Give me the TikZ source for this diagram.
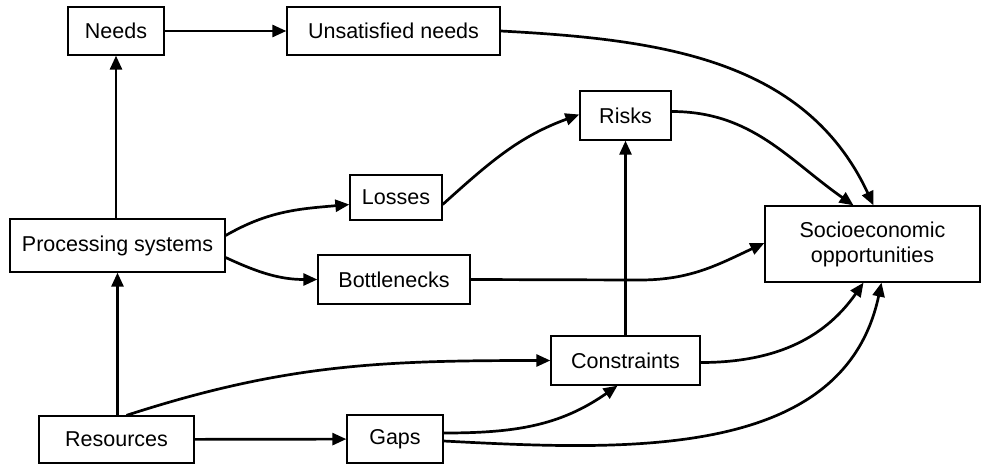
\documentclass[tikz,border=0pt]{standalone}
\usepackage{fontspec}
\setmainfont{Liberation Sans}
\usetikzlibrary{arrows.meta}
\begin{document}
\begin{tikzpicture}[x=1pt,y=-1pt,
  box/.style={draw,line width=1.3pt,inner sep=0pt,font=\fontsize{21.5}{25}\selectfont,align=center},
  con/.style={line width=2.7pt,-{Triangle[length=14pt,width=12pt]}}]
\useasboundingbox (0,0) rectangle (985,464);
\node[box,minimum width=96,minimum height=48] (needs) at (116,31) {Needs};
\node[box,minimum width=213,minimum height=48] (unsat) at (393.5,31) {Unsatisfied needs};
\node[box,minimum width=91,minimum height=49] (risks) at (625.5,115.5) {Risks};
\node[box,minimum width=215,minimum height=76] (socio) at (872.5,244) {Socioeconomic\\opportunities};
\node[box,minimum width=92,minimum height=45] (losses) at (396,197.5) {Losses};
\node[box,minimum width=215,minimum height=53] (proc) at (117.5,245.5) {Processing systems};
\node[box,minimum width=152,minimum height=49] (bott) at (394,279.5) {Bottlenecks};
\node[box,minimum width=149,minimum height=49] (cons) at (625.5,360.5) {Constraints};
\node[box,minimum width=155,minimum height=47] (res) at (116.5,439.5) {Resources};
\node[box,minimum width=96,minimum height=48] (gaps) at (395,439) {Gaps};
\coordinate (bk) at (640,280);
% straight connectors
\draw[con] (needs) -- (unsat);
\draw[con] (proc.north -| needs) -- (needs.south);
\draw[con] (res.north -| proc) -- (proc.south);
\draw[con] (res) -- (gaps);
\draw[con] (cons.north) -- (risks.south);
% curved connectors
\draw[con] ([yshift=10]proc.east) to[out=30,in=185] ([yshift=-7]losses.west);
\draw[con] ([yshift=-12]proc.east) to[out=-25,in=180] (bott.west);
\draw[con] ([yshift=-7]losses.east) to[out=42,in=200] ([yshift=1]risks.west);
\draw[con] (unsat.east) to[out=-3,in=115] ([xshift=1]socio.north);
\draw[con] ([yshift=4]risks.east) to[out=0,in=145] ([xshift=-19]socio.north);
\draw[con] (bott.east) -- (bk) to[out=0,in=205] ([yshift=1]socio.west);
\draw[con] ([xshift=10]res.north) to[out=18,in=180] (cons.west);
\draw[con] ([yshift=6]gaps.east) to[out=0,in=215] ([xshift=-8]cons.south);
\draw[con] ([yshift=-2]gaps.east) to[out=-3,in=258] ([xshift=9]socio.south);
\draw[con] ([yshift=-2]cons.east) to[out=0,in=235] ([xshift=-9]socio.south);
\end{tikzpicture}
\end{document}
